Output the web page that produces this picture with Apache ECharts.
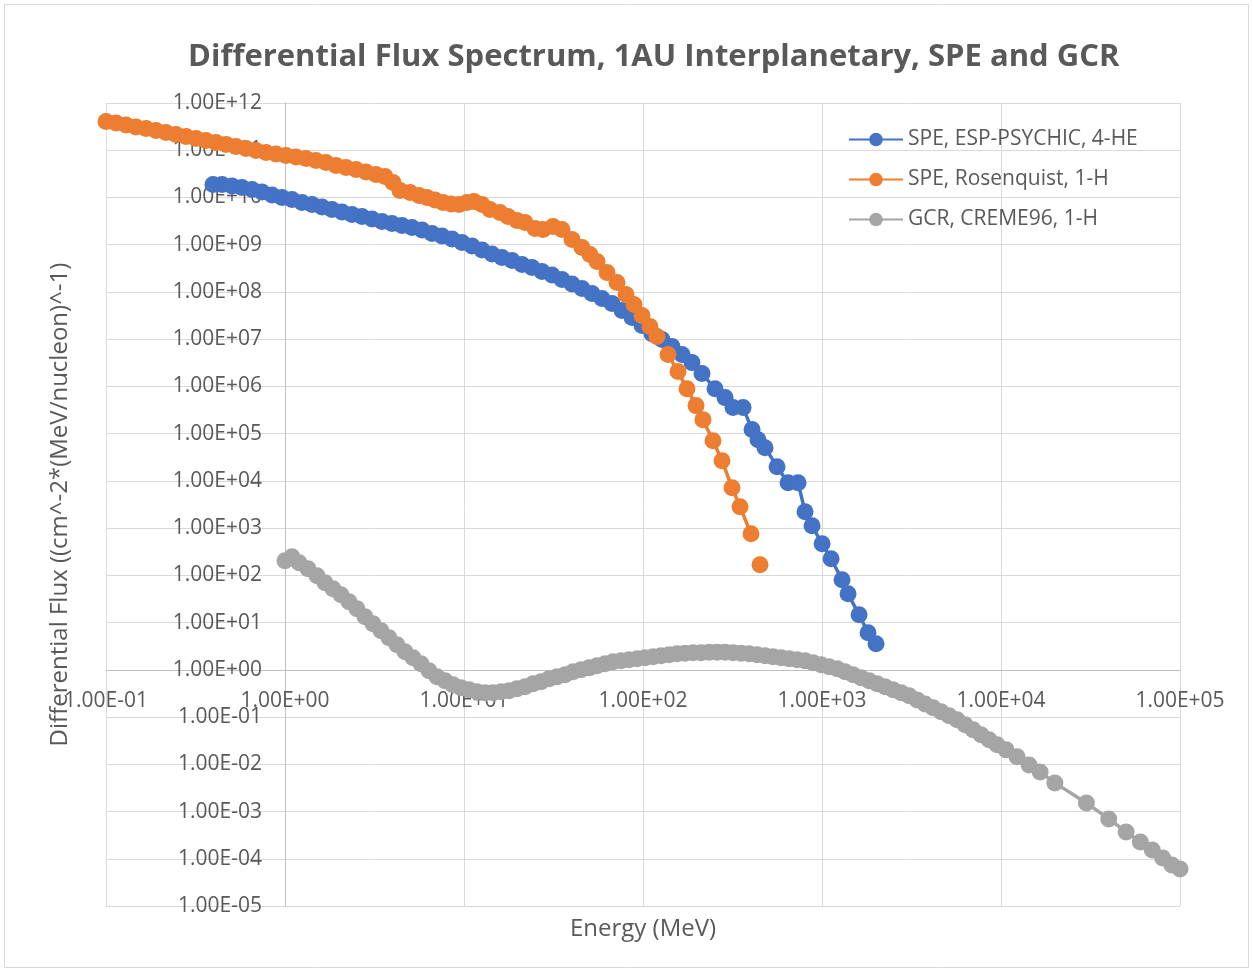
<!DOCTYPE html>
<html><head><meta charset="utf-8">
<script src="https://cdn.jsdelivr.net/npm/echarts/dist/echarts.min.js"></script>
<style>html,body{margin:0;padding:0;background:#fff;}#chart{width:1253px;height:972px;}</style>
</head><body><div id="chart"></div>
<script>
const titleText = 'Differential Flux Spectrum, 1AU Interplanetary, SPE and GCR';
const xAxisTitle = 'Energy (MeV)';
const yAxisTitle = 'Differential Flux ((cm^-2*(MeV/nucleon)^-1)';
const seriesNames = ['SPE, ESP-PSYCHIC, 4-HE', 'SPE, Rosenquist, 1-H', 'GCR, CREME96, 1-H'];

const blueEnergy = [0.396,0.445,0.506,0.575,0.654,0.744,0.846,0.962,1.094,1.245,1.416,1.610,1.830,2.082,2.368,2.693,3.063,3.483,3.961,4.505,5.124,5.827,6.628,7.538,8.570,9.748,11.09,12.61,14.34,16.31,18.55,21.09,23.99,27.28,31.02,35.29,40.13,45.63,51.90,59.03,67.13,76.35,86.83,98.76,112.3,127.7,145.3,165.2,187.8,213.6,252.6,287.3,318.4,362.2,406.6,439.1,480.6,560.9,646.1,734.8,804.1,879.7,1001,1124,1294,1398,1611,1808,2004];
const blueFlux = [1.88e10,1.88e10,1.75e10,1.63e10,1.48e10,1.31e10,1.13e10,1.00e10,9.07e9,7.83e9,7.10e9,6.29e9,5.57e9,4.93e9,4.36e9,3.96e9,3.50e9,3.10e9,2.81e9,2.55e9,2.31e9,2.05e9,1.73e9,1.53e9,1.32e9,1.11e9,9.38e8,7.72e8,6.35e8,5.36e8,4.62e8,3.80e8,3.29e8,2.70e8,2.28e8,1.83e8,1.47e8,1.18e8,9.25e7,7.25e7,5.68e7,4.04e7,2.87e7,1.94e7,1.31e7,9.80e6,6.97e6,4.72e6,3.19e6,1.87e6,8.97e5,5.79e5,3.56e5,3.56e5,1.22e5,7.46e4,5.05e4,2.00e4,9.16e3,9.16e3,2.22e3,1.12e3,467,225,80.7,40.7,14.6,6.08,3.56];

const orangeEnergy = [0.1,0.1137,0.1293,0.1471,0.1673,0.1903,0.2164,0.2461,0.2799,0.3183,0.3620,0.4116,0.4681,0.5323,0.6054,0.6885,0.7833,0.8905,1.013,1.152,1.310,1.490,1.695,1.927,2.192,2.493,2.835,3.224,3.620,4.013,4.390,4.992,5.606,6.214,6.887,7.633,8.461,9.378,10.39,11.37,12.61,13.97,15.89,17.61,19.78,21.92,24.93,27.63,31.42,35.28,40.13,45.62,50.57,55.35,62.94,71.56,80.36,89.07,98.72,109.4,119.7,138.0,156.9,176.1,197.8,216.3,246.1,276.3,314.2,348.3,401.3,425,450.4];
const orangeFlux = [4.07e11,3.79e11,3.44e11,3.12e11,2.90e11,2.63e11,2.38e11,2.16e11,1.96e11,1.78e11,1.61e11,1.46e11,1.33e11,1.20e11,1.09e11,9.9e10,8.98e10,8.34e10,7.76e10,7.21e10,6.70e10,6.08e10,5.51e10,4.76e10,4.32e10,3.92e10,3.47e10,3.07e10,2.79e10,2.08e10,1.41e10,1.28e10,1.10e10,1.00e10,8.85e9,7.83e9,7.28e9,7.10e9,7.83e9,8.22e9,7.10e9,5.57e9,4.81e9,3.96e9,3.26e9,2.95e9,2.20e9,2.10e9,2.43e9,2.10e9,1.29e9,8.73e8,6.20e8,4.41e8,2.58e8,1.58e8,8.81e7,5.41e7,3.16e7,1.85e7,1.14e7,4.72e6,2.06e6,8.97e5,3.92e5,1.98e5,7.11e4,2.68e4,7.18e3,2.84e3,761,null,168];

const grayEnergy = [1.0,1.094,1.198,1.345,1.510,1.673,1.854,2.055,2.279,2.525,2.799,3.102,3.439,3.812,4.225,4.683,5.190,5.753,6.377,7.068,7.834,8.683,9.625,10.67,11.82,13.11,14.53,16.10,17.85,19.78,21.93,24.31,26.94,29.86,33.09,36.68,40.66,45.07,49.95,55.37,61.37,68.02,75.40,83.57,92.62,102.7,113.8,126.1,139.8,155.0,171.8,190.4,211.0,233.9,259.3,287.3,318.5,353.0,391.3,433.7,480.7,532.8,590.6,654.6,725.6,804.2,891.4,988.1,1095,1214,1345,1491,1653,1832,2031,2251,2495,2766,3066,3398,3766,4175,4627,5129,5685,6301,6985,7742,8581,9511,10680,12300,14350,16540,20000,30000,40000,50000,60000,70000,80000,90000,100000];
const grayFlux = [204,248,185,138,98.1,69.7,52.0,38.8,27.6,19.6,13.3,9.44,6.70,4.76,3.39,2.41,1.80,1.34,0.952,0.711,0.585,0.481,0.416,0.377,0.342,0.326,0.326,0.342,0.359,0.396,0.436,0.505,0.557,0.645,0.711,0.784,0.907,1.00,1.10,1.22,1.34,1.48,1.55,1.63,1.71,1.80,1.89,1.98,2.08,2.18,2.24,2.29,2.29,2.35,2.35,2.35,2.29,2.24,2.18,2.08,1.98,1.89,1.80,1.71,1.63,1.55,1.41,1.28,1.16,1.05,0.907,0.784,0.677,0.585,0.505,0.436,0.377,0.326,0.281,0.231,0.190,0.157,0.129,0.106,0.0873,0.0684,0.0536,0.0420,0.0329,0.0258,0.0202,0.0144,0.00971,0.00690,0.00404,0.00152,6.97e-4,3.70e-4,2.27e-4,1.54e-4,1.04e-4,7.39e-5,6.08e-5];

const xMin = 0.1, xMax = 1e5, yMin = 1e-5, yMax = 1e12;
const colors = ['#4472C4', '#ED7D31', '#A5A5A5'];
const FONT = '"Open Sans", "Noto Sans", sans-serif';
const TXT = '#595959';

function sci(v) {
  const s = Number(v).toExponential(2);
  const parts = s.split('e');
  const n = parseInt(parts[1], 10);
  return parts[0] + 'E' + (n < 0 ? '-' : '+') + String(Math.abs(n)).padStart(2, '0');
}
function pairs(xs, ys) { return xs.map((x, i) => [x, ys[i] === null ? '-' : ys[i]]); }

const chart = echarts.init(document.getElementById('chart'), null, {renderer: 'canvas'});
const mkSeries = (name, xs, ys, c) => ({
  name: name, type: 'line', data: pairs(xs, ys), connectNulls: false,
  symbol: 'circle', symbolSize: 17, showSymbol: true,
  lineStyle: {color: c, width: 3.5}, itemStyle: {color: c}, animation: false
});
chart.setOption({
  animation: false,
  graphic: [{type: 'rect', silent: true, z: -10,
    shape: {x: 4.5, y: 4.5, width: 1244, height: 963},
    style: {fill: 'none', stroke: '#d9d9d9', lineWidth: 1}}],
  title: {text: titleText, left: 183, top: 37,
    textStyle: {fontFamily: FONT, fontSize: 31, fontWeight: 'bold', color: TXT}},
  grid: {left: 106, right: 73, top: 103, bottom: 66, containLabel: false},
  legend: {orient: 'vertical', left: 843, top: 124, itemWidth: 54, itemHeight: 17, itemGap: 19,
    textStyle: {fontFamily: FONT, fontSize: 21, color: TXT}, data: seriesNames},
  xAxis: {type: 'log', logBase: 10, min: xMin, max: xMax, interval: 1, splitNumber: 6, position: 'bottom', offset: -236,
    name: xAxisTitle, nameLocation: 'middle', nameGap: 247,
    nameTextStyle: {fontFamily: FONT, fontSize: 24, color: TXT},
    axisLine: {show: true, lineStyle: {color: '#bfbfbf', width: 1}},
    axisTick: {show: false}, minorTick: {show: false},
    axisLabel: {formatter: sci, margin: 21, fontFamily: FONT, fontSize: 21, color: TXT, showMinLabel: true, showMaxLabel: true},
    splitLine: {show: true, lineStyle: {color: '#d9d9d9', width: 1}}},
  yAxis: {type: 'log', logBase: 10, min: yMin, max: yMax, interval: 1, splitNumber: 17, position: 'left', offset: -179,
    name: yAxisTitle, nameLocation: 'middle', nameGap: 213, nameRotate: 90,
    nameTextStyle: {fontFamily: FONT, fontSize: 24, color: TXT},
    axisLine: {show: true, lineStyle: {color: '#bfbfbf', width: 1}},
    axisTick: {show: false},
    axisLabel: {formatter: sci, margin: 23, fontFamily: FONT, fontSize: 21, color: TXT, showMinLabel: true, showMaxLabel: true},
    splitLine: {show: true, lineStyle: {color: '#d9d9d9', width: 1}}},
  series: [
    mkSeries(seriesNames[0], blueEnergy, blueFlux, colors[0]),
    mkSeries(seriesNames[1], orangeEnergy, orangeFlux, colors[1]),
    mkSeries(seriesNames[2], grayEnergy, grayFlux, colors[2])
  ]
});
</script></body></html>
